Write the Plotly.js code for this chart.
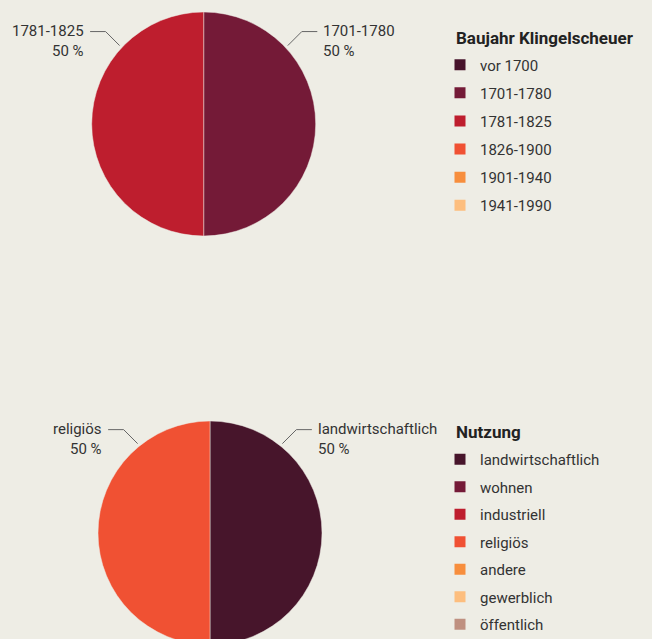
<!DOCTYPE html>
<html>
<head>
<meta charset="utf-8">
<script src="https://cdn.plot.ly/plotly-3.0.1.min.js"></script>
<style>
  html, body { margin: 0; padding: 0; background: #eeede5; overflow: hidden; }
  #frame { width: 652px; height: 639px; overflow: hidden; position: relative; }
  #chart { width: 652px; height: 650px; position: absolute; left: 0; top: 0; }
</style>
</head>
<body>
<div id="frame"><div id="chart"></div></div>
<script>
// Baujahr (construction period) of the Klingelscheuer
const buildCats = ['vor 1700', '1701-1780', '1781-1825', '1826-1900', '1901-1940', '1941-1990'];
const buildCounts = [0, 1, 1, 0, 0, 0];
const buildColors = ['#47132b', '#741a37', '#be1e2e', '#f05133', '#f78e3d', '#fdbe7e'];

// Nutzung (use)
const useCats = ['landwirtschaftlich', 'wohnen', 'industriell', 'religiös', 'andere', 'gewerblich', 'öffentlich'];
const useCounts = [1, 0, 0, 1, 0, 0, 0];
const useColors = ['#47152b', '#741a37', '#be1e2e', '#f05133', '#f78e3d', '#fdbe7e', '#bf9080'];

const W = 652, H = 650;
const BG = '#eeede5';
const FONT = 'Roboto, "Open Sans", sans-serif';
const px = x => x / W;
const py = y => (H - y) / H;

// pixel geometry of each pie block
const charts = [
  { title: 'Baujahr Klingelscheuer', cats: buildCats, counts: buildCounts, colors: buildColors,
    cx: 203.7, cy: 124, r: 112, labelAngle: 47, legend: 'legend', legendLeft: 440, legendTop: 48.5,
    groupGap: 5.6, titleY: 38 },
  { title: 'Nutzung', cats: useCats, counts: useCounts, colors: useColors,
    cx: 210, cy: 533, r: 112, labelAngle: 39, legend: 'legend2', legendLeft: 440, legendTop: 443,
    groupGap: 5, titleY: 431.7 }
];

const traces = [];
const annotations = [];
const shapes = [];
const layoutLegends = {};

charts.forEach((c, ci) => {
  const idx = c.counts.map((v, i) => i).filter(i => c.counts[i] > 0);
  const vals = idx.map(i => c.counts[i]);
  const total = vals.reduce((a, b) => a + b, 0);

  traces.push({
    type: 'pie',
    labels: idx.map(i => c.cats[i]),
    values: vals,
    marker: { colors: idx.map(i => c.colors[i]), line: { color: 'rgba(238,237,229,0.6)', width: 0.8 } },
    sort: false,
    direction: 'clockwise',
    rotation: 0,
    textinfo: 'none',
    hoverinfo: 'label+percent',
    showlegend: false,
    domain: { x: [px(c.cx - c.r), px(c.cx + c.r)], y: [py(c.cy + c.r), py(c.cy - c.r)] }
  });

  // outside labels with elbow leader lines
  let start = 0;
  idx.forEach((i, k) => {
    const span = vals[k] / total * 360;
    const mid = start + span / 2;
    start += span;
    const side = mid < 180 ? 1 : -1;
    const a = side * c.labelAngle * Math.PI / 180;
    const d = c.r + 3;
    const x0 = c.cx + d * Math.sin(a), y0 = c.cy - d * Math.cos(a);
    const x1 = x0 + side * 14, y1 = y0 - 14;
    const x2 = x1 + side * 15.5, y2 = y1;
    shapes.push({
      type: 'path', xref: 'paper', yref: 'paper',
      path: `M ${px(x0)} ${py(y0)} L ${px(x1)} ${py(y1)} L ${px(x2)} ${py(y2)}`,
      line: { color: '#666666', width: 1 }
    });
    const pct = Math.round(vals[k] / total * 100);
    annotations.push({
      xref: 'paper', yref: 'paper', showarrow: false,
      x: px(x2 + side * 4), y: py(y2 + 9.5),
      xanchor: side > 0 ? 'left' : 'right', yanchor: 'middle',
      align: side > 0 ? 'left' : 'right',
      text: `${c.cats[i]}<br>${pct} %`,
      font: { family: FONT, size: 15, color: '#333333' }
    });
  });

  // legend title
  annotations.push({
    xref: 'paper', yref: 'paper', showarrow: false,
    x: px(454.2), y: py(c.titleY), xanchor: 'left', yanchor: 'middle',
    text: c.title,
    font: { family: FONT, size: 17, color: '#222222', weight: 'bold' }
  });

  // legend entries for every category
  c.cats.forEach((cat, i) => {
    traces.push({
      type: 'scatter', mode: 'markers',
      x: [null], y: [null],
      name: cat,
      legend: c.legend,
      legendgroup: c.legend + '_' + i,
      marker: { symbol: 'square', size: 11, color: c.colors[i] },
      hoverinfo: 'skip',
      showlegend: true
    });
  });

  layoutLegends[c.legend] = {
    x: px(c.legendLeft), xanchor: 'left',
    y: py(c.legendTop), yanchor: 'top',
    font: { family: FONT, size: 15, color: '#333333' },
    bgcolor: 'rgba(0,0,0,0)',
    borderwidth: 0,
    traceorder: 'grouped',
    tracegroupgap: c.groupGap,
    itemclick: false,
    itemdoubleclick: false
  };
});

const layout = Object.assign({
  width: W, height: H,
  margin: { l: 0, r: 0, t: 0, b: 0 },
  paper_bgcolor: BG,
  plot_bgcolor: BG,
  xaxis: { visible: false },
  yaxis: { visible: false },
  annotations: annotations,
  shapes: shapes,
  font: { family: FONT }
}, layoutLegends);

Plotly.newPlot('chart', traces, layout, { displayModeBar: false });
</script>
</body>
</html>
